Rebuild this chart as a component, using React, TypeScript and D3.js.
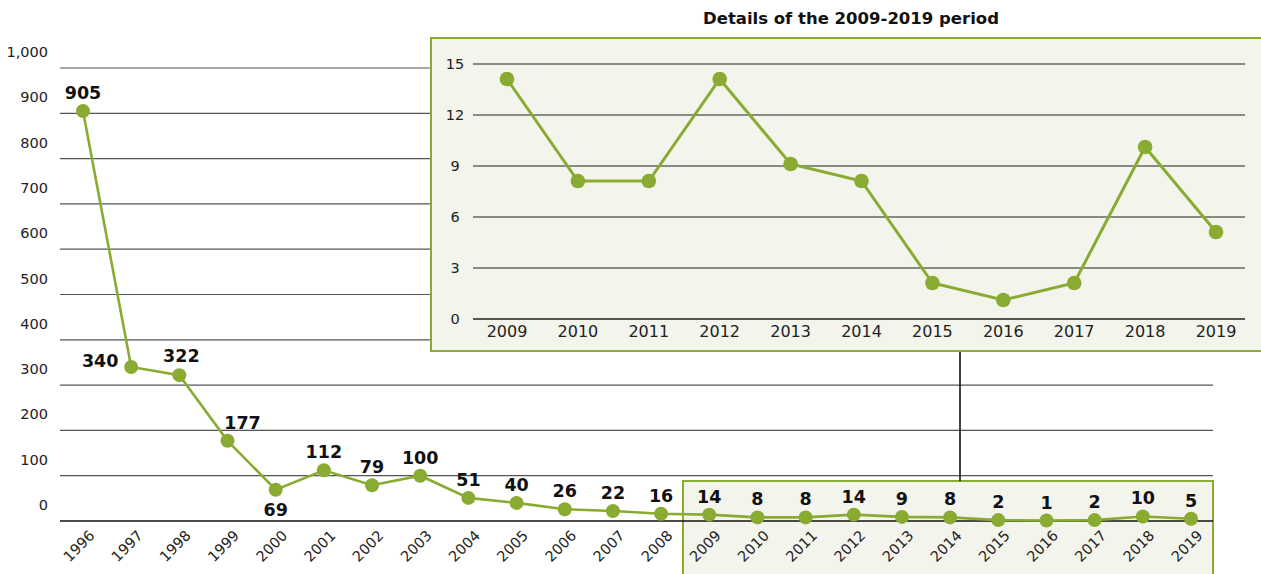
import React from "react";
import * as d3 from "d3";

const years = ["1996","1997","1998","1999","2000","2001","2002","2003","2004","2005","2006","2007","2008","2009","2010","2011","2012","2013","2014","2015","2016","2017","2018","2019"];
const values = [905,340,322,177,69,112,79,100,51,40,26,22,16,14,8,8,14,9,8,2,1,2,10,5];
const yTicks = [0,100,200,300,400,500,600,700,800,900,1000];

const insetYears = ["2009","2010","2011","2012","2013","2014","2015","2016","2017","2018","2019"];
const insetValues = [14,8,8,14,9,8,2,1,2,10,5];
const insetTicks = [0,3,6,9,12,15];
const insetTitle = "Details of the 2009-2019 period";

// label placement per year (style only)
const labelPlace: Record<string, string> = { "1997": "left", "1998": "rightSmall", "1999": "right", "2000": "below" };

const GREEN = "#8aab32";
const FONT = "'DejaVu Sans', sans-serif";

export default function App() {
  const W = 1261, H = 574;
  const x = d3.scalePoint<string>().domain(years).range([83, 1191]);
  const y = d3.scaleLinear().domain([0, 1000]).range([521, 68]);
  const xi = d3.scalePoint<string>().domain(insetYears).range([507, 1216]);
  const yi = d3.scaleLinear().domain([0, 15]).range([319, 64]);

  const line = d3.line<number>().x((_, i) => x(years[i])!).y((d) => y(d));
  const lineI = d3.line<number>().x((_, i) => xi(insetYears[i])!).y((d) => yi(d) - 2);

  const labelPos = (yr: string, v: number) => {
    const px = x(yr)!, py = y(v);
    const p = labelPlace[yr];
    if (p === "left") return [px - 31, py - 6];
    if (p === "rightSmall") return [px + 2, py - 19];
    if (p === "right") return [px + 15, py - 18];
    if (p === "below") return [px, py + 20];
    return [px, py - 18];
  };

  return (
    <div style={{ position: "absolute", left: 0, top: 0 }}>
      <svg width={W} height={H} style={{ display: "block", fontFamily: FONT }}>
        <rect width={W} height={H} fill="#fff" />
        {/* bottom detail box */}
        <rect x={683} y={481} width={530} height={110} fill="#f3f4ec" stroke={GREEN} strokeWidth={2} />
        {/* main gridlines */}
        {yTicks.map((t) => (
          <line key={t} x1={60} x2={1213} y1={y(t)} y2={y(t)} stroke={t === 0 ? "#111" : "#555"} strokeWidth={t === 0 ? 1.3 : 1.2} />
        ))}
        {yTicks.map((t) => (
          <text key={"l" + t} x={48} y={y(t) - 16} textAnchor="end" dominantBaseline="central" fontSize={14.5} fill="#222">
            {d3.format(",")(t)}
          </text>
        ))}
        {/* connector */}
        <line x1={960} x2={960} y1={351} y2={481} stroke="#111" strokeWidth={1.6} />
        {/* main series */}
        <path d={line(values)!} fill="none" stroke={GREEN} strokeWidth={2.6} />
        {values.map((v, i) => (
          <circle key={i} cx={x(years[i])} cy={y(v)} r={7} fill={GREEN} />
        ))}
        {values.map((v, i) => {
          const [lx, ly] = labelPos(years[i], v);
          return (
            <text key={"v" + i} x={lx} y={ly} textAnchor="middle" dominantBaseline="central" fontSize={17.5} fontWeight="bold" fill="#111">
              {v}
            </text>
          );
        })}
        {years.map((yr) => (
          <text key={"x" + yr} transform={`translate(${x(yr)! + 9},${533}) rotate(-45)`} textAnchor="end" dominantBaseline="central" fontSize={14.5} fill="#222">
            {yr}
          </text>
        ))}
        {/* inset */}
        <text x={851} y={18} textAnchor="middle" dominantBaseline="central" fontSize={16.5} fontWeight="bold" fill="#111">
          {insetTitle}
        </text>
        <rect x={431} y={38} width={850} height={313} fill="#f3f4ec" stroke={GREEN} strokeWidth={2} />
        {insetTicks.map((t) => (
          <line key={"ig" + t} x1={473} x2={1245} y1={yi(t)} y2={yi(t)} stroke={t === 0 ? "#222" : "#666"} strokeWidth={1.4} />
        ))}
        {insetTicks.map((t) => (
          <text key={"il" + t} x={455} y={yi(t)} textAnchor="middle" dominantBaseline="central" fontSize={14.5} fill="#222">
            {t}
          </text>
        ))}
        {insetYears.map((yr) => (
          <text key={"ix" + yr} x={xi(yr)} y={331} textAnchor="middle" dominantBaseline="central" fontSize={16} fill="#222">
            {yr}
          </text>
        ))}
        <path d={lineI(insetValues)!} fill="none" stroke={GREEN} strokeWidth={3} />
        {insetValues.map((v, i) => (
          <circle key={"ic" + i} cx={xi(insetYears[i])} cy={yi(v) - 2} r={7.3} fill={GREEN} />
        ))}
      </svg>
    </div>
  );
}
